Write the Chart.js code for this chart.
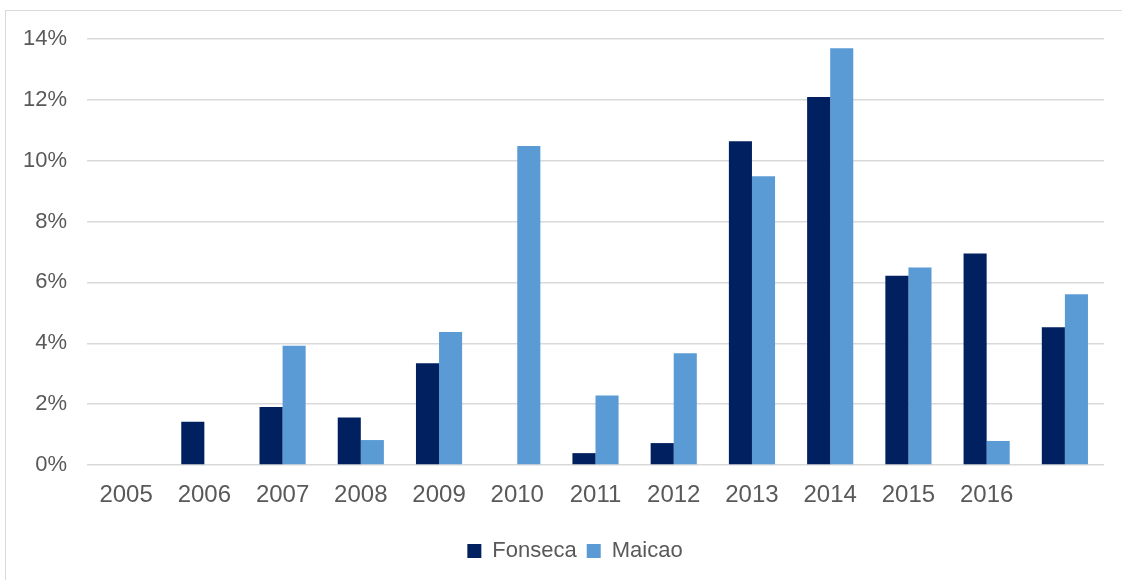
<!DOCTYPE html>
<html>
<head>
<meta charset="utf-8">
<script src="https://cdn.jsdelivr.net/npm/chart.js@4"></script>
<style>
  html, body { margin: 0; padding: 0; background: #ffffff; overflow: hidden; }
  #wrap { position: relative; width: 1122px; height: 580px; }
  #frame { position: absolute; left: 5px; top: 10px; width: 1130px; height: 600px; border: 1.5px solid #d9d9d9; box-sizing: border-box; }
  canvas { position: absolute; left: 0; top: 0; }
</style>
</head>
<body>
<div id="wrap">
  <div id="frame"></div>
  <canvas id="c" width="1122" height="580"></canvas>
</div>
<script>
const categories = ['2005','2006','2007','2008','2009','2010','2011','2012','2013','2014','2015','2016',''];
const fonseca = [0, 1.42, 1.91, 1.56, 3.34, 0, 0.39, 0.72, 10.64, 12.09, 6.22, 6.95, 4.53];
const maicao  = [0, 0, 3.92, 0.82, 4.37, 10.48, 2.28, 3.67, 9.49, 13.70, 6.49, 0.79, 5.61];
const seriesNames = ['Fonseca', 'Maicao'];
const yTicks = [0, 2, 4, 6, 8, 10, 12, 14];

const textColor = '#595959';
const fontFamily = '"Liberation Sans", Arial, sans-serif';

const shiftLegend = {
  id: 'shiftLegend',
  afterLayout(chart) {
    if (chart.legend) { chart.legend.left += 46; }
  }
};

new Chart(document.getElementById('c'), {
  type: 'bar',
  data: {
    labels: categories,
    datasets: [
      { label: seriesNames[0], data: fonseca, backgroundColor: '#002060', categoryPercentage: 0.59, barPercentage: 1.0 },
      { label: seriesNames[1], data: maicao, backgroundColor: '#5B9BD5', categoryPercentage: 0.59, barPercentage: 1.0 }
    ]
  },
  plugins: [shiftLegend],
  options: {
    responsive: false,
    animation: false,
    layout: { padding: { top: 39, right: 18, bottom: 8, left: 0 } },
    plugins: {
      tooltip: { enabled: false },
      legend: {
        position: 'bottom',
        labels: {
          color: textColor,
          font: { family: fontFamily, size: 22 },
          boxWidth: 14,
          boxHeight: 14,
          padding: 10
        }
      }
    },
    scales: {
      x: {
        afterFit: (axis) => { axis.height = 65; },
        grid: { display: false, drawTicks: false },
        border: { display: false },
        ticks: { color: textColor, font: { family: fontFamily, size: 24 }, padding: 16, maxRotation: 0 }
      },
      y: {
        min: 0,
        max: 14,
        afterFit: (axis) => { axis.width = 87; },
        afterBuildTicks: (axis) => { axis.ticks = yTicks.map(v => ({ value: v })); },
        grid: { color: '#d9d9d9', lineWidth: 1.5, drawTicks: false },
        border: { display: false },
        ticks: {
          color: textColor,
          font: { family: fontFamily, size: 22 },
          padding: 20,
          callback: (v) => v + '%'
        }
      }
    }
  }
});
</script>
</body>
</html>
